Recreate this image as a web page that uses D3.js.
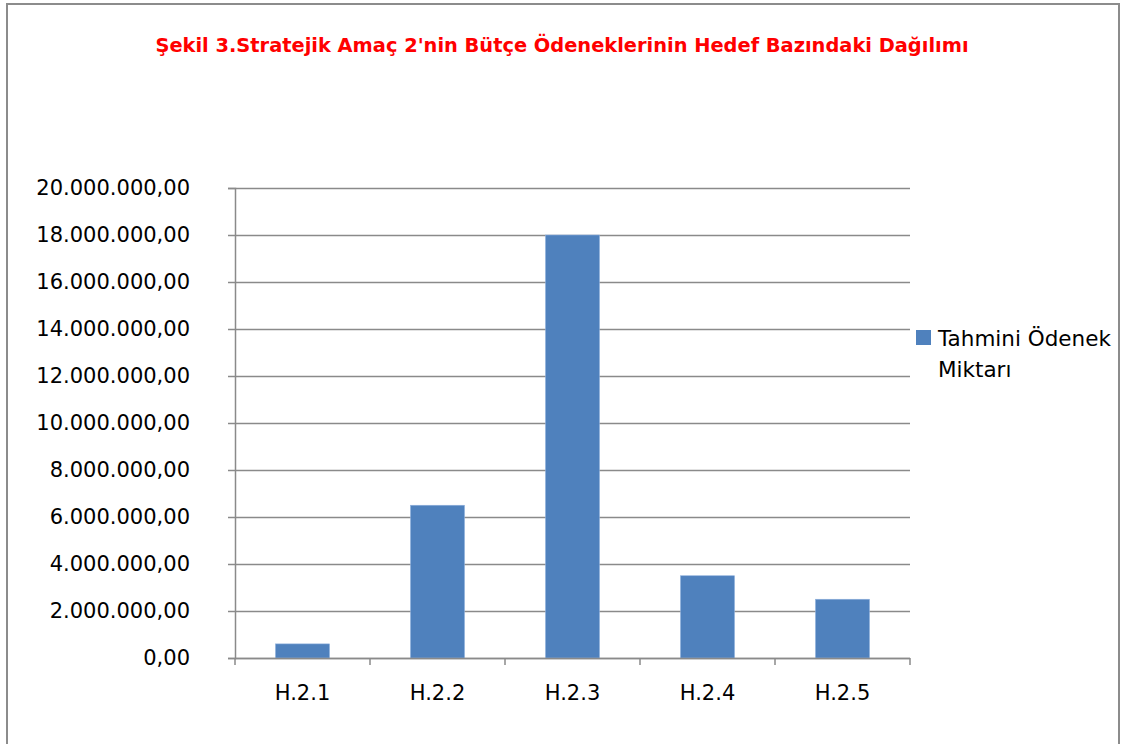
<!DOCTYPE html>
<html>
<head>
<meta charset="utf-8">
<script src="https://cdn.jsdelivr.net/npm/d3@7"></script>
<style>
  html, body { margin: 0; padding: 0; background: #fff; }
  svg { display: block; }
</style>
</head>
<body>
<script>
const titleText = "Şekil 3.Stratejik Amaç 2'nin Bütçe Ödeneklerinin Hedef Bazındaki Dağılımı";
const categories = ["H.2.1", "H.2.2", "H.2.3", "H.2.4", "H.2.5"];
const values = [600000, 6500000, 18000000, 3500000, 2500000];
const seriesName = ["Tahmini Ödenek", "Miktarı"];
const yTicks = [0, 2000000, 4000000, 6000000, 8000000, 10000000, 12000000, 14000000, 16000000, 18000000, 20000000];

const W = 1121, H = 744;
const margin = {left: 235, right: 211, top: 188, bottom: 86};
const font = "'DejaVu Sans', sans-serif";

const svg = d3.select("body").append("svg").attr("width", W).attr("height", H);

// frame
svg.append("path")
  .attr("d", `M7,${H + 5} L7,4 L1119,4 L1119,${H + 5}`)
  .attr("fill", "none").attr("stroke", "#8c8c8c").attr("stroke-width", 2);

// title
svg.append("text")
  .attr("x", 562).attr("y", 52)
  .attr("text-anchor", "middle")
  .attr("font-family", font).attr("font-weight", "bold").attr("font-size", 19.4)
  .attr("fill", "#ff0000")
  .text(titleText);

const x = d3.scaleBand().domain(categories)
  .range([margin.left, W - margin.right]).paddingInner(0.6).paddingOuter(0.3);
const y = d3.scaleLinear().domain([0, 20000000]).range([H - margin.bottom, margin.top]);

const fmt = v => {
  const s = d3.format(",.2f")(v);
  return s.replace(/,/g, "#").replace(/\./g, ",").replace(/#/g, ".");
};

// gridlines
svg.append("g").selectAll("line").data(yTicks).join("line")
  .attr("x1", margin.left).attr("x2", W - margin.right)
  .attr("y1", d => Math.round(y(d)) + 0.5).attr("y2", d => Math.round(y(d)) + 0.5)
  .attr("stroke", "#8a8a8a").attr("stroke-width", 1.5);

// y axis
const yAxis = svg.append("g").attr("transform", `translate(${margin.left},0)`)
  .call(d3.axisLeft(y).tickValues(yTicks).tickFormat(fmt).tickSize(7).tickPadding(38));
yAxis.select(".domain").attr("stroke", "#8a8a8a").attr("stroke-width", 1.5);
yAxis.selectAll(".tick line").attr("stroke", "#8a8a8a").attr("stroke-width", 1.5);
yAxis.selectAll("text").attr("font-family", font).attr("font-size", 21).attr("fill", "#000");

// bars
svg.append("g").selectAll("rect").data(values).join("rect")
  .attr("x", (d, i) => x(categories[i]))
  .attr("width", x.bandwidth())
  .attr("y", d => y(d))
  .attr("height", d => y(0) - y(d))
  .attr("fill", "#4f81bd")
  .attr("stroke", "#8eb0dc").attr("stroke-width", 0.6);

// x axis
const boundaries = d3.range(categories.length + 1).map(i => margin.left + i * (W - margin.left - margin.right) / categories.length);
const xa = svg.append("g");
xa.append("line").attr("x1", margin.left).attr("x2", W - margin.right)
  .attr("y1", y(0) + 0.5).attr("y2", y(0) + 0.5)
  .attr("stroke", "#8a8a8a").attr("stroke-width", 1.5);
xa.selectAll("line.tk").data(boundaries).join("line").attr("class", "tk")
  .attr("x1", d => d).attr("x2", d => d)
  .attr("y1", y(0)).attr("y2", y(0) + 7)
  .attr("stroke", "#8a8a8a").attr("stroke-width", 1.5);
xa.selectAll("text").data(categories).join("text")
  .attr("x", d => x(d) + x.bandwidth() / 2)
  .attr("y", 700)
  .attr("text-anchor", "middle")
  .attr("font-family", font).attr("font-size", 21).attr("fill", "#000")
  .text(d => d);

// legend
const lg = svg.append("g");
lg.append("rect").attr("x", 916).attr("y", 330).attr("width", 15).attr("height", 15).attr("fill", "#4f81bd");
lg.selectAll("text").data(seriesName).join("text")
  .attr("x", 938).attr("y", (d, i) => 346 + i * 31)
  .attr("font-family", font).attr("font-size", 21.5).attr("fill", "#000")
  .text(d => d);
</script>
</body>
</html>
